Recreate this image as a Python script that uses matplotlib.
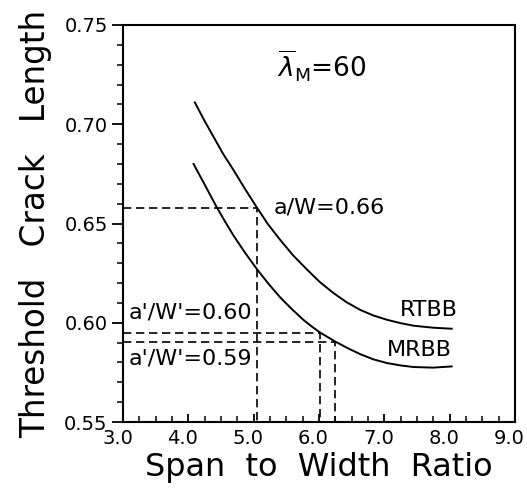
import matplotlib
matplotlib.use('Agg')
import matplotlib.pyplot as plt
from matplotlib.transforms import ScaledTranslation

plt.rcParams['font.family'] = ['DejaVu Sans']
plt.rcParams['mathtext.fontset'] = 'dejavusans'

# curves
rtbb_x = [4.10, 4.24, 4.38, 4.53, 4.69, 4.87, 5.05, 5.22, 5.40, 5.60, 5.81,
          6.01, 6.22, 6.42, 6.63, 6.83, 7.04, 7.25, 7.45, 7.75, 8.03]
rtbb_y = [0.711, 0.7022, 0.694, 0.6852, 0.677, 0.6673, 0.658, 0.6496, 0.642,
          0.6341, 0.627, 0.6206, 0.615, 0.6104, 0.6065, 0.6037, 0.6015,
          0.5998, 0.5985, 0.5975, 0.597]

mrbb_x = [4.08, 4.25, 4.43, 4.56, 4.69, 4.87, 5.05, 5.22, 5.40, 5.58, 5.76,
          5.89, 6.02, 6.25, 6.44, 6.63, 6.83, 7.04, 7.25, 7.45, 7.75, 8.03]
mrbb_y = [0.680, 0.6696, 0.6585, 0.6511, 0.644, 0.6352, 0.627, 0.6199, 0.613,
          0.607, 0.6015, 0.5981, 0.595, 0.5905, 0.5872, 0.5842, 0.5816,
          0.5797, 0.5785, 0.5777, 0.5774, 0.578]

# threshold guide lines (x where they meet the curve, y level)
guide_x = [5.05, 6.02, 6.25]
guide_y = [0.658, 0.595, 0.5905]
guide_labels = ["a/W=0.66", "a'/W'=0.60", "a'/W'=0.59"]

xmin, xmax = 3.0, 9.0
ymin, ymax = 0.55, 0.75

fig = plt.figure(figsize=(5.27, 4.91), dpi=100)
ax = fig.add_axes([0.2334, 0.1405, 0.7438, 0.8086])

ax.plot(rtbb_x, rtbb_y, color='black', lw=1.4)
ax.plot(mrbb_x, mrbb_y, color='black', lw=1.4)

for gx, gy in zip(guide_x, guide_y):
    ax.plot([xmin, gx, gx], [gy, gy, ymin], color='black', lw=1.2,
            linestyle=(0, (5, 2.8)))

# labels
ax.text(5.30, guide_y[0], guide_labels[0], fontsize=16, va='center', ha='left')
ax.text(3.08, 0.605, guide_labels[1], fontsize=16, va='center', ha='left')
ax.text(3.08, 0.582, guide_labels[2], fontsize=16, va='center', ha='left')
ax.text(8.13, 0.6064, 'RTBB', fontsize=16, va='center', ha='right')
ax.text(8.04, 0.5863, 'MRBB', fontsize=16, va='center', ha='right')
ax.text(5.36, 0.729, r'$\overline{\lambda}_{\mathrm{M}}$=60', fontsize=19,
        va='center', ha='left')

ax.set_xlim(xmin, xmax)
ax.set_ylim(ymin, ymax)
ax.set_xticks([3, 4, 5, 6, 7, 8, 9])
ax.set_xticklabels(['3.0', '4.0', '5.0', '6.0', '7.0', '8.0', '9.0'])
ax.set_xticks([3 + 0.25 * i for i in range(25)], minor=True)
ax.set_yticks([0.55, 0.60, 0.65, 0.70, 0.75])
ax.set_yticklabels(['0.55', '0.60', '0.65', '0.70', '0.75'])
ax.set_yticks([0.55 + 0.01 * i for i in range(21)], minor=True)

ax.tick_params(axis='x', which='major', direction='in', length=6, width=1.3,
               labelsize=14, pad=5)
ax.tick_params(axis='x', which='minor', direction='in', length=4, width=1.1)
ax.tick_params(axis='y', which='major', direction='out', length=8, width=1.3,
               labelsize=14, pad=3)
ax.tick_params(axis='y', which='minor', direction='out', length=4, width=1.1)

# x tick labels sit a little left of their ticks in the original
shift = ScaledTranslation(-4 / 72, 0, fig.dpi_scale_trans)
for lbl in ax.get_xticklabels():
    lbl.set_transform(lbl.get_transform() + shift)

for sp in ax.spines.values():
    sp.set_linewidth(1.5)

ax.set_xlabel('Span  to  Width  Ratio', fontsize=23, labelpad=3)
ax.set_ylabel('Threshold   Crack   Length', fontsize=23.5, labelpad=9)

fig.savefig('out.png', dpi=100)
